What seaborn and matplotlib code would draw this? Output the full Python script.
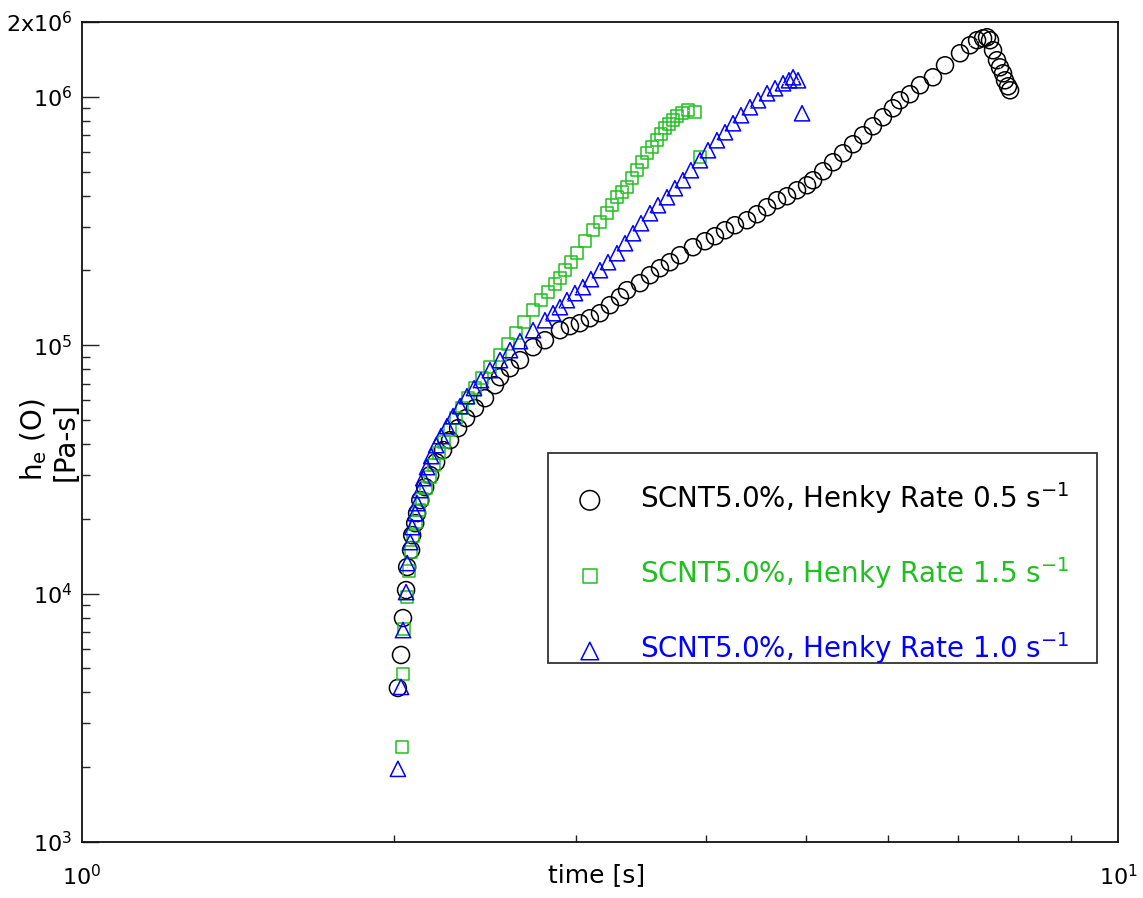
import numpy as np
import pandas as pd
import matplotlib
matplotlib.use("Agg")
import matplotlib.pyplot as plt
import seaborn as sns
from matplotlib.ticker import FixedLocator, FixedFormatter, NullFormatter
from matplotlib.patches import Rectangle

# Extensional viscosity growth, SCNT 5.0 %, three Hencky rates
time_05 = [2.018, 2.032, 2.041, 2.055, 2.060, 2.078, 2.083, 2.097, 2.106, 2.121,
           2.144, 2.168, 2.197, 2.231, 2.266, 2.307, 2.348, 2.395, 2.449, 2.504,
           2.532, 2.589, 2.647, 2.725, 2.798, 2.893, 2.958, 3.024, 3.092, 3.162,
           3.233, 3.306, 3.358, 3.456, 3.534, 3.613, 3.694, 3.777, 3.888, 3.993,
           4.083, 4.175, 4.268, 4.384, 4.483, 4.584, 4.687, 4.792, 4.900, 5.010,
           5.078, 5.193, 5.309, 5.428, 5.550, 5.675, 5.800, 5.931, 6.064, 6.159,
           6.298, 6.440, 6.628, 6.808, 7.039, 7.197, 7.311, 7.409, 7.474, 7.524,
           7.575, 7.642, 7.693, 7.745, 7.779, 7.832, 7.867]
eta_05 = [4.17e3, 5.66e3, 7.97e3, 1.033e4, 1.279e4, 1.497e4, 1.719e4, 1.921e4, 2.108e4, 2.378e4,
          2.683e4, 2.999e4, 3.382e4, 3.780e4, 4.147e4, 4.635e4, 5.085e4, 5.579e4, 6.118e4, 6.902e4,
          7.434e4, 8.080e4, 8.705e4, 9.817e4, 1.047e5, 1.149e5, 1.193e5, 1.226e5, 1.284e5, 1.345e5,
          1.449e5, 1.561e5, 1.665e5, 1.777e5, 1.913e5, 2.041e5, 2.158e5, 2.302e5, 2.480e5, 2.621e5,
          2.746e5, 2.902e5, 3.040e5, 3.184e5, 3.367e5, 3.593e5, 3.833e5, 3.978e5, 4.205e5, 4.404e5,
          4.613e5, 5.015e5, 5.450e5, 5.924e5, 6.440e5, 7.000e5, 7.608e5, 8.271e5, 8.989e5, 9.680e5,
          1.024e6, 1.113e6, 1.198e6, 1.339e6, 1.497e6, 1.612e6, 1.689e6, 1.720e6, 1.736e6, 1.689e6,
          1.539e6, 1.403e6, 1.314e6, 1.243e6, 1.165e6, 1.102e6, 1.062e6]

time_15 = [2.037, 2.041, 2.046, 2.060, 2.069, 2.078, 2.088, 2.102, 2.116, 2.130,
           2.148, 2.168, 2.187, 2.211, 2.236, 2.266, 2.296, 2.327, 2.358, 2.395,
           2.433, 2.476, 2.532, 2.577, 2.624, 2.671, 2.725, 2.774, 2.817, 2.861,
           2.893, 2.926, 2.965, 3.004, 3.058, 3.113, 3.162, 3.212, 3.248, 3.284,
           3.320, 3.358, 3.395, 3.433, 3.471, 3.510, 3.549, 3.589, 3.621, 3.653,
           3.686, 3.719, 3.752, 3.794, 3.845, 3.905, 3.949]
eta_15 = [2.41e3, 4.74e3, 7.20e3, 9.68e3, 1.232e4, 1.469e4, 1.703e4, 1.940e4, 2.168e4, 2.400e4,
          2.658e4, 2.943e4, 3.289e4, 3.676e4, 4.071e4, 4.550e4, 5.085e4, 5.579e4, 6.118e4, 6.714e4,
          7.366e4, 8.155e4, 9.117e4, 1.009e5, 1.118e5, 1.238e5, 1.383e5, 1.518e5, 1.635e5, 1.760e5,
          1.861e5, 2.004e5, 2.158e5, 2.345e5, 2.621e5, 2.902e5, 3.126e5, 3.398e5, 3.660e5, 3.941e5,
          4.128e5, 4.323e5, 4.699e5, 5.062e5, 5.450e5, 5.924e5, 6.262e5, 6.682e5, 7.065e5, 7.468e5,
          7.751e5, 8.044e5, 8.348e5, 8.582e5, 8.825e5, 8.661e5, 5.708e5]

time_10 = [2.018, 2.032, 2.041, 2.055, 2.060, 2.074, 2.083, 2.097, 2.106, 2.121,
           2.135, 2.153, 2.173, 2.197, 2.221, 2.251, 2.281, 2.317, 2.353, 2.390,
           2.427, 2.476, 2.532, 2.589, 2.647, 2.725, 2.798, 2.849, 2.893, 2.938,
           2.991, 3.044, 3.099, 3.162, 3.219, 3.284, 3.343, 3.403, 3.464, 3.534,
           3.597, 3.670, 3.735, 3.802, 3.870, 3.949, 4.020, 4.101, 4.175, 4.250,
           4.326, 4.413, 4.493, 4.584, 4.666, 4.750, 4.813, 4.857, 4.911, 4.955]
eta_10 = [1.97e3, 4.21e3, 7.13e3, 1.014e4, 1.327e4, 1.612e4, 1.852e4, 2.108e4, 2.313e4, 2.609e4,
          2.916e4, 3.229e4, 3.575e4, 3.959e4, 4.304e4, 4.721e4, 5.180e4, 5.682e4, 6.233e4, 6.714e4,
          7.231e4, 7.932e4, 8.705e4, 9.548e4, 1.038e5, 1.149e5, 1.260e5, 1.345e5, 1.422e5, 1.518e5,
          1.620e5, 1.712e5, 1.844e5, 2.004e5, 2.158e5, 2.345e5, 2.573e5, 2.823e5, 3.097e5, 3.398e5,
          3.660e5, 3.941e5, 4.284e5, 4.613e5, 5.062e5, 5.552e5, 6.091e5, 6.682e5, 7.197e5, 7.823e5,
          8.426e5, 9.073e5, 9.680e5, 1.033e6, 1.082e6, 1.133e6, 1.165e6, 1.198e6, 1.165e6, 8.582e5]

labels = [r"SCNT5.0%, Henky Rate 0.5 s$^{-1}$",
          r"SCNT5.0%, Henky Rate 1.5 s$^{-1}$",
          r"SCNT5.0%, Henky Rate 1.0 s$^{-1}$"]
colors = ["#000000", "#1FC01F", "#0000FF"]
markers = ["o", "s", "^"]
sizes = [150, 80, 120]

y_ticks = [1e3, 1e4, 1e5, 1e6, 2e6]
y_tick_labels = [r"$10^{3}$", r"$10^{4}$", r"$10^{5}$", r"$10^{6}$", r"2x$10^{6}$"]
x_ticks = [1, 10]
x_tick_labels = [r"$10^{0}$", r"$10^{1}$"]

sns.set_theme(style="white")
plt.rcParams["font.family"] = ["DejaVu Sans"]
plt.rcParams["mathtext.default"] = "regular"
plt.rcParams["text.color"] = "black"
plt.rcParams["axes.labelcolor"] = "black"
plt.rcParams["xtick.labelcolor"] = "black"
plt.rcParams["ytick.labelcolor"] = "black"

fig = plt.figure(figsize=(11.43, 8.98), dpi=100)
ax = fig.add_axes([82 / 1143, 56 / 898, 1036 / 1143, 820 / 898])

series = [(time_05, eta_05), (time_15, eta_15), (time_10, eta_10)]
for (t, eta), lab, col, mk, sz in zip(series, labels, colors, markers, sizes):
    df = pd.DataFrame({"time": t, "eta": eta})
    sns.scatterplot(data=df, x="time", y="eta", marker=mk, s=sz,
                    facecolor="none", edgecolor=col, linewidth=1.1,
                    label=lab, ax=ax, zorder=3)
    sns.scatterplot(data=df, x="time", y="eta", marker=".", s=2,
                    color=col, linewidth=0, label="_nolegend_", ax=ax, zorder=3)

ax.set_xscale("log")
ax.set_yscale("log")
ax.set_xlim(1, 10)
ax.set_ylim(1e3, 2e6)

ax.yaxis.set_major_locator(FixedLocator(y_ticks))
ax.yaxis.set_major_formatter(FixedFormatter(y_tick_labels))
y_minor = [m * 10.0 ** k for k in range(3, 6) for m in range(2, 10)]
ax.yaxis.set_minor_locator(FixedLocator(y_minor))
ax.yaxis.set_minor_formatter(NullFormatter())

ax.xaxis.set_major_locator(FixedLocator(x_ticks))
ax.xaxis.set_major_formatter(FixedFormatter(x_tick_labels))
ax.xaxis.set_minor_locator(FixedLocator(list(range(2, 10))))
ax.xaxis.set_minor_formatter(NullFormatter())

ax.tick_params(axis="y", which="major", direction="in", length=12, width=1.0,
               color="#222222", labelsize=16, pad=7, left=True, right=False)
ax.tick_params(axis="y", which="minor", direction="in", length=6, width=1.0,
               color="#222222", left=True, right=False)
ax.tick_params(axis="x", which="major", direction="in", length=0,
               labelsize=16, pad=16, bottom=True, top=False)
ax.tick_params(axis="x", which="minor", direction="in", length=5, width=1.0,
               color="#222222", bottom=True, top=False)

for sp in ax.spines.values():
    sp.set_visible(True)
    sp.set_color("#111111")
    sp.set_linewidth(1.3)

ax.set_xlabel("time [s]", fontsize=18)
ax.xaxis.set_label_coords(0.497, -0.026)
ax.set_ylabel("h$_{e}$ (O)\n[Pa-s]", fontsize=20,
              multialignment="left", linespacing=1.15)
ax.yaxis.set_label_coords(-0.002, 0.49)
ax.grid(False)

# legend entries with a plain frame drawn around them
frame = Rectangle((0.450, 0.2183), 0.530, 0.2561, transform=ax.transAxes,
                  facecolor="white", edgecolor="#333333", linewidth=1.3, zorder=4)
ax.add_patch(frame)
leg = ax.legend(loc="upper left", bbox_to_anchor=(0.462, 0.452), frameon=False,
                fontsize=20, labelcolor=colors, handletextpad=1.05,
                labelspacing=1.42, markerscale=1.15, borderaxespad=0,
                borderpad=0.3, handlelength=1.5)
leg.set_zorder(5)

fig.savefig("out.png", dpi=100)
